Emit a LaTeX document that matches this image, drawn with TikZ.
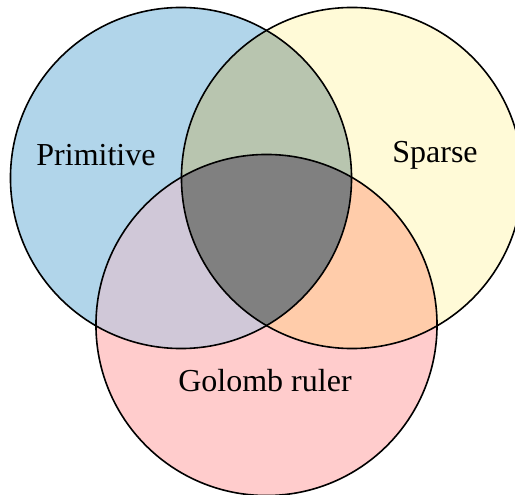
\documentclass[tikz,border=0pt]{standalone}
\usepackage{fontspec}
\setmainfont{Liberation Serif}
\definecolor{cA}{HTML}{B1D5EA}
\definecolor{cB}{HTML}{FFFAD7}
\definecolor{cC}{HTML}{FFCCCC}
\definecolor{cAB}{HTML}{B8C5AF}
\definecolor{cAC}{HTML}{D0C8D8}
\definecolor{cBC}{HTML}{FFCCAA}
\definecolor{cABC}{HTML}{808080}
\tikzset{
  ring/.style={draw=black, line width=1.2pt},
  lab/.style={font=\fontsize{24}{28}\selectfont, inner sep=0pt}
}
\begin{document}
\begin{tikzpicture}[x=0.75pt, y=-0.75pt]
\useasboundingbox (0,0) rectangle (515,495);
\coordinate (A) at (181,178);
\coordinate (B) at (352,178);
\coordinate (C) at (266.5,325);
\def\R{127.9pt}
\fill[cA] (A) circle[radius=\R];
\fill[cB] (B) circle[radius=\R];
\fill[cC] (C) circle[radius=\R];
\begin{scope}
  \clip (A) circle[radius=\R];
  \fill[cAB] (B) circle[radius=\R];
  \fill[cAC] (C) circle[radius=\R];
\end{scope}
\begin{scope}
  \clip (B) circle[radius=\R];
  \fill[cBC] (C) circle[radius=\R];
\end{scope}
\begin{scope}
  \clip (A) circle[radius=\R];
  \clip (B) circle[radius=\R];
  \fill[cABC] (C) circle[radius=\R];
\end{scope}
\draw[ring] (A) circle[radius=\R];
\draw[ring] (B) circle[radius=\R];
\draw[ring] (C) circle[radius=\R];
\node[lab] (prim) at (96,155) {Primitive};
\node[lab] (spar) at (435,155) {Sparse};
\node[lab] (golo) at (265,381) {Golomb ruler};
\end{tikzpicture}
\end{document}
